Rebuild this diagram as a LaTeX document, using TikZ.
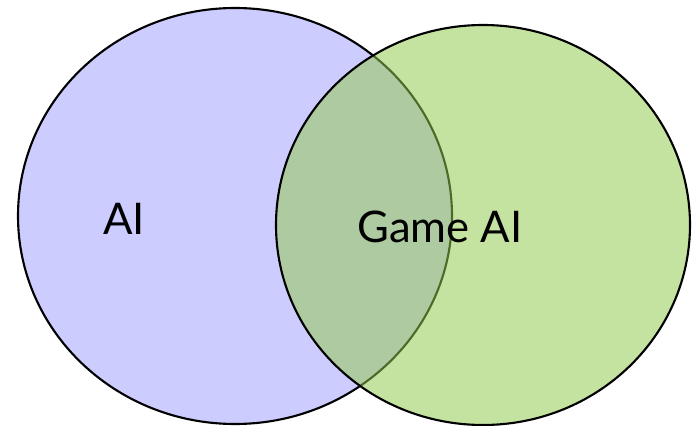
\documentclass[tikz,border=0pt]{standalone}
\usepackage{fontspec}
\setmainfont{Lato}
\definecolor{aiblue}{RGB}{204,204,255}
\definecolor{gamegreen}{RGB}{146,202,76}

\newcommand{\leftrx}{217}
\newcommand{\leftry}{208}
\newcommand{\rightrx}{207}
\newcommand{\rightry}{200}

\begin{document}
\begin{tikzpicture}[x=0.025cm,y=-0.025cm]
\useasboundingbox (0,0) rectangle (698,426);
  \coordinate (L) at (235, 216);
  \coordinate (R) at (483, 225);

  \draw [line width = 1.5pt, fill = aiblue] (L) ellipse [x radius=\leftrx, y radius=\leftry];
  \fill [gamegreen, fill opacity = 0.53] (R) ellipse [x radius=\rightrx, y radius=\rightry];
  \draw [line width = 1.5pt] (R) ellipse [x radius=\rightrx, y radius=\rightry];

  \node [inner sep=0pt, font=\fontsize{31}{36}\selectfont] (ai) at (124, 219) {AI};
  \node [inner sep=0pt, font=\fontsize{31}{36}\selectfont] (gameai) at (440, 227) {Game AI};

\end{tikzpicture}
\end{document}
